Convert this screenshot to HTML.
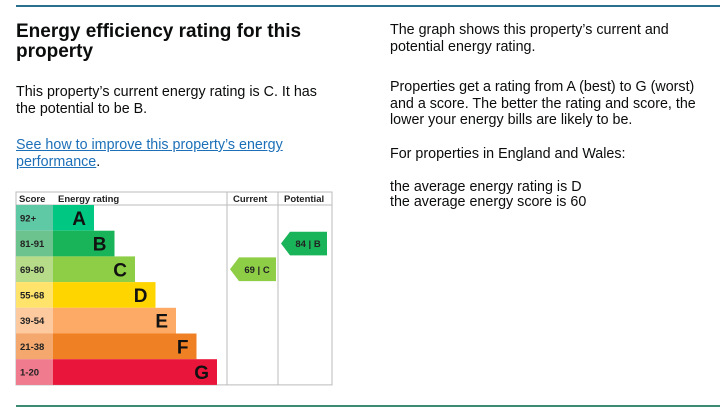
<!DOCTYPE html>
<html><head><meta charset="utf-8"><style>
body{margin:0;width:720px;height:418px;background:#fff;position:relative;font-family:"Liberation Sans",Arial,sans-serif;color:#0b0c0c;overflow:hidden}
.t{position:absolute;white-space:nowrap}
.h{font-weight:bold;font-size:19px;line-height:20px}
.p{font-size:14.3px;line-height:16.5px}
a{color:#1d70b8;text-decoration:underline}
.rule{position:absolute;left:16px;width:704px;height:1.5px;background:#2b6f8e}
</style></head><body>
<div class="rule" style="top:5px"></div>
<div class="rule" style="top:405px;background:#3b8a73"></div>
<div class="t h" style="left:16px;top:22px">Energy efficiency rating for this<br>property</div>
<div class="t p" style="left:16px;top:84px">This property’s current energy rating is C. It has<br>the potential to be B.</div>
<div class="t p" style="left:16px;top:137px"><a href="#">See how to improve this property’s energy<br>performance</a>.</div>
<div class="t p" style="left:390px;top:22px">The graph shows this property’s current and<br>potential energy rating.</div>
<div class="t p" style="left:390px;top:79px">Properties get a rating from A (best) to G (worst)<br>and a score. The better the rating and score, the<br>lower your energy bills are likely to be.</div>
<div class="t p" style="left:390px;top:146px">For properties in England and Wales:</div>
<div class="t p" style="left:390px;top:180px;line-height:15px">the average energy rating is D<br>the average energy score is 60</div>

<svg id="chart" width="720" height="418" style="position:absolute;left:0;top:0" font-family="Liberation Sans, Arial, sans-serif"></svg>
<script>
const bands=["A","B","C","D","E","F","G"];
const ranges=["92+","81-91","69-80","55-68","39-54","21-38","1-20"];
const barColors=["#00c781","#19b459","#8dce46","#ffd500","#fcaa65","#ef8023","#e9153b"];
const scoreColors=["#5fc8a4","#6cc38e","#b6dc8a","#ffe36b","#fdc99f","#f4a86e","#f07a8e"];
const currentScore=69, currentBand="C";
const potentialScore=84, potentialBand="B";
{
const svg=document.getElementById('chart');
const NS="http://www.w3.org/2000/svg";
const cLeft=16,cRight=332,cTop=192,headH=13,rowH=25.7,scoreW=37,cur0=227,cur1=278;
const barW=i=>41+i*20.5;
function el(t,a){const e=document.createElementNS(NS,t);for(const k in a)e.setAttribute(k,a[k]);svg.appendChild(e);return e;}
const y=i=>cTop+headH+i*rowH;
const bi=b=>bands.indexOf(b);
const frame=el('rect',{x:cLeft,y:cTop,width:cRight-cLeft,height:headH+7*rowH,fill:'#fff',stroke:'#bbb','stroke-width':1});


[cur0,cur1].forEach(x=>{const l=el('line',{x1:x,x2:x,y1:cTop,y2:cTop+headH+7*rowH,stroke:'#bbb'});

});
const hl=el('line',{x1:cLeft,x2:cRight,y1:cTop+headH,y2:cTop+headH,stroke:'#bbb'});


[["Score",cLeft+3],["Energy rating",cLeft+scoreW+5],["Current",cur0+6],["Potential",cur1+6]].forEach(([s,x])=>{
const t=el('text',{x:x,y:cTop+10,'font-size':9.5,'font-weight':'bold',fill:'#222'});t.textContent=s;

});
bands.forEach((b,i)=>{
const r=el('rect',{x:cLeft,y:y(i),width:scoreW,height:rowH,fill:scoreColors[i]});


const st=el('text',{x:cLeft+4,y:y(i)+rowH/2+3.5,'font-size':9.5,'font-weight':'bold',fill:'#222'});st.textContent=ranges[i];


const bar=el('rect',{x:cLeft+scoreW,y:y(i),width:barW(i),height:rowH,fill:barColors[i]});


const lt=el('text',{x:cLeft+scoreW+barW(i)-8,y:y(i)+rowH/2+7,'font-size':19,'font-weight':'bold','text-anchor':'end',fill:'#111'});lt.textContent=b;


});
function arrow(x0,x1,i,color,label,name){
const yt=y(i)+1,yb=y(i)+rowH-1,ym=(yt+yb)/2;
const p=el('polygon',{points:`${x0},${ym} ${x0+9},${yt} ${x1},${yt} ${x1},${yb} ${x0+9},${yb}`,fill:color});


const t=el('text',{x:(x0+x1)/2+4,y:ym+3.5,'font-size':9.5,'font-weight':'bold','text-anchor':'middle',fill:'#222'});t.textContent=label;


}
arrow(230,276,bi(currentBand),barColors[bi(currentBand)],currentScore+" | "+currentBand,'current-rating');
arrow(281,327,bi(potentialBand),barColors[bi(potentialBand)],potentialScore+" | "+potentialBand,'potential-rating');
}
</script>
</body></html>
